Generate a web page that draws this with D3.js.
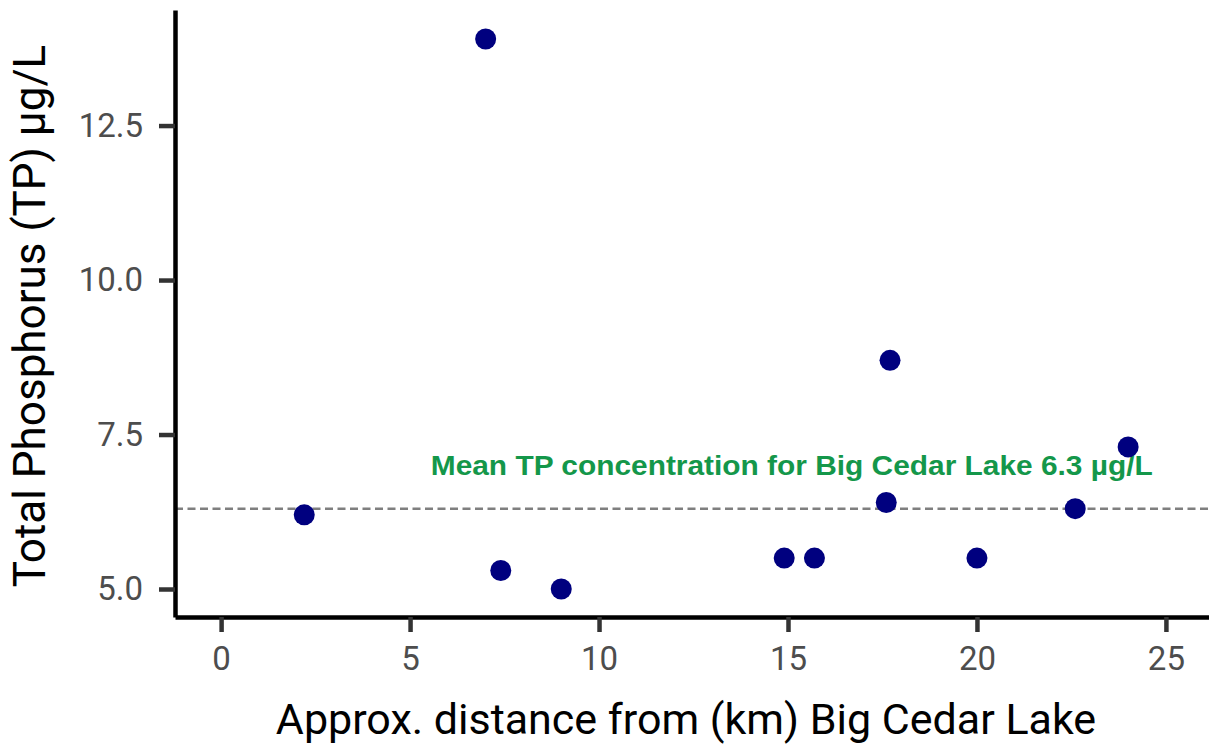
<!DOCTYPE html>
<html>
<head>
<meta charset="utf-8">
<script src="https://cdn.jsdelivr.net/npm/d3@7"></script>
<style>
  body { margin: 0; background: #fff; }
  svg { display: block; }
</style>
</head>
<body>
<svg id="chart" width="1209" height="746"></svg>
<script>
// Sampling sites: distance from Big Cedar Lake (km) and total phosphorus (µg/L)
const distanceKm = [2.2, 7.0, 7.4, 9.0, 14.9, 15.7, 17.6, 17.7, 20.0, 22.6, 24.0];
const tpValues   = [6.2, 13.9, 5.3, 5.0, 5.5, 5.5, 6.4, 8.7, 5.5, 6.3, 7.3];
const xTicks = [0, 5, 10, 15, 20, 25];
const yTicks = [5.0, 7.5, 10.0, 12.5];
const meanTP = 6.3;
const meanLabel = "Mean TP concentration for Big Cedar Lake 6.3 µg/L";
const meanLabelPos = [15.1, 7.0];

const svg = d3.select("#chart");
const plotLeft = 175, plotRight = 1209, plotTop = 10, plotBottom = 617;

const x = d3.scaleLinear().domain([-1.22, 26.14]).range([plotLeft, plotRight]);
const y = d3.scaleLinear().domain([4.547, 14.37]).range([plotBottom, plotTop]);

// dashed reference line at the lake mean
svg.append("line")
  .attr("x1", plotLeft).attr("x2", plotRight)
  .attr("y1", y(meanTP)).attr("y2", y(meanTP))
  .attr("stroke", "#7f7f7f").attr("stroke-width", 2.5)
  .attr("stroke-dasharray", "8,4.5");

svg.append("text")
  .attr("x", x(meanLabelPos[0])).attr("y", y(meanLabelPos[1]))
  .attr("text-anchor", "middle").attr("dominant-baseline", "central")
  .attr("font-family", "Liberation Sans, Arial, sans-serif")
  .attr("font-weight", "bold").attr("font-size", 28)
  .attr("fill", "#14974a")
  .attr("textLength", 722).attr("lengthAdjust", "spacingAndGlyphs")
  .text(meanLabel);

// points
svg.append("g").selectAll("circle")
  .data(distanceKm.map((d, i) => [d, tpValues[i]]))
  .join("circle")
  .attr("cx", d => x(d[0])).attr("cy", d => y(d[1]))
  .attr("r", 10.5).attr("fill", "#00007f");

// axes
const xAxis = svg.append("g").attr("transform", `translate(0,${plotBottom})`)
  .call(d3.axisBottom(x).tickValues(xTicks).tickSize(15).tickSizeOuter(0).tickPadding(15));
const yAxis = svg.append("g").attr("transform", `translate(${plotLeft},0)`)
  .call(d3.axisLeft(y).tickValues(yTicks).tickFormat(d3.format(".1f")).tickSize(16).tickSizeOuter(0).tickPadding(16));

[xAxis, yAxis].forEach(g => {
  g.select(".domain").attr("stroke", "#000").attr("stroke-width", 4.5);
  g.selectAll(".tick line").attr("stroke", "#333").attr("stroke-width", 4.5);
  g.selectAll(".tick text").attr("fill", "#4d4d4d")
    .attr("font-family", "Roboto, sans-serif").attr("font-size", 33);
});

// axis titles
svg.append("text")
  .attr("x", 686).attr("y", 734)
  .attr("text-anchor", "middle")
  .attr("font-family", "Roboto, sans-serif").attr("font-size", 43)
  .attr("fill", "#000")
  .text("Approx. distance from (km) Big Cedar Lake");

svg.append("text")
  .attr("transform", `translate(45,316) rotate(-90)`)
  .attr("text-anchor", "middle")
  .attr("font-family", "Roboto, sans-serif").attr("font-size", 44)
  .attr("fill", "#000")
  .text("Total Phosphorus (TP) µg/L");
</script>
</body>
</html>
